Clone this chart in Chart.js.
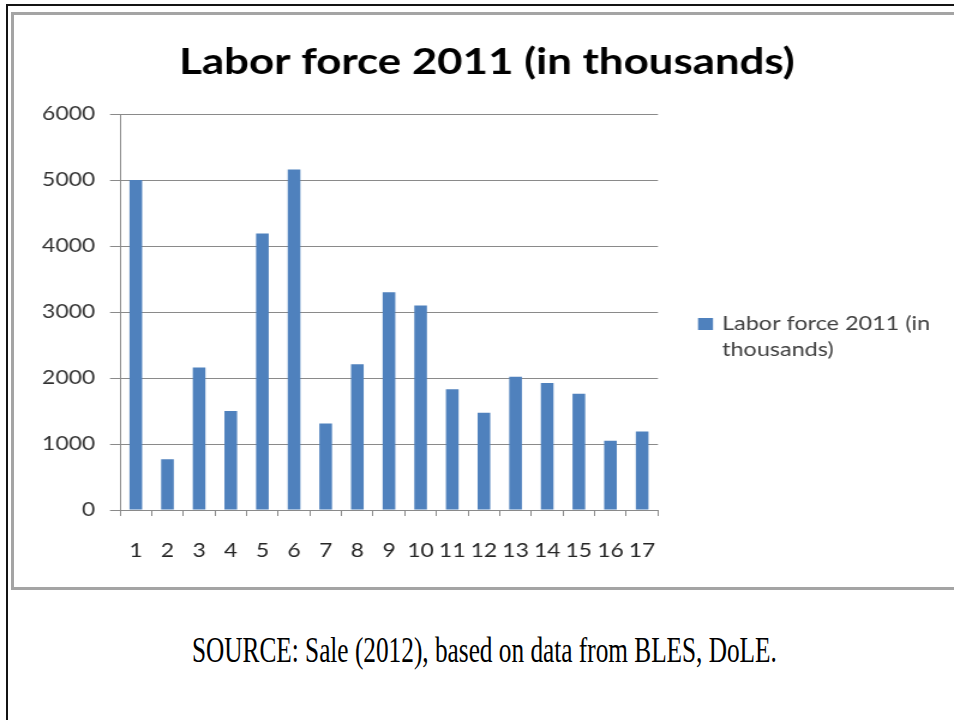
<!DOCTYPE html>
<html><head><meta charset="utf-8">
<script src="https://cdn.jsdelivr.net/npm/chart.js@4.4.1/dist/chart.umd.min.js"></script>
<style>
html,body{margin:0;padding:0;background:#fff;}
body{width:954px;height:720px;overflow:hidden;position:relative;}
.bl{position:absolute;background:#141414;}
#frame{position:absolute;left:11px;top:12px;width:960px;height:572px;border:3px solid #a4a4a4;}
#wrap{position:absolute;left:12px;top:0;width:792px;height:590px;transform:scaleX(1.2);transform-origin:0 0;}
#src{position:absolute;left:200px;top:633px;font-family:"Liberation Serif","Times New Roman",serif;font-size:35px;line-height:35px;white-space:nowrap;color:#000;transform-origin:0 0;}
</style></head><body>
<div class="bl" style="left:6px;top:4px;width:2px;height:716px"></div>
<div class="bl" style="left:6px;top:4px;width:948px;height:2px"></div>
<div id="frame"></div>
<div id="wrap"><canvas id="c" width="792" height="590"></canvas></div>
<div id="src"></div>
<script>
// ---- data ----
const categories = ['1','2','3','4','5','6','7','8','9','10','11','12','13','14','15','16','17'];
const laborForce = [5000, 770, 2160, 1500, 4190, 5160, 1310, 2210, 3300, 3100, 1830, 1475, 2020, 1925, 1760, 1050, 1190];
const yTickValues = [0, 1000, 2000, 3000, 4000, 5000, 6000];
const chartTitle = 'Labor force 2011 (in thousands)';
const seriesLabel = 'Labor force 2011 (in thousands)';
const sourceNote = 'SOURCE: Sale (2012), based on data from BLES, DoLE.';

// ---- layout / style ----
const BAR_COLOR = '#4F81BD';
const GRID = '#8a8a8a';
const LABEL = '#262626';

function wrapText(ctx, text, maxW) {
  const words = text.split(' ');
  const lines = [];
  let cur = '';
  for (const w of words) {
    const t = cur ? cur + ' ' + w : w;
    if (ctx.measureText(t).width > maxW && cur) { lines.push(cur); cur = w; }
    else cur = t;
  }
  if (cur) lines.push(cur);
  return lines;
}

const titleLegendPlugin = {
  id: 'titleLegend',
  afterDraw(chart) {
    const ctx = chart.ctx;
    ctx.save();
    // title
    ctx.font = 'bold 40px Lato';
    const w40 = ctx.measureText(chartTitle).width;
    const size = 40 * 513 / w40;
    ctx.font = 'bold ' + size.toFixed(2) + 'px Lato';
    ctx.fillStyle = '#000';
    ctx.textAlign = 'center';
    ctx.textBaseline = 'alphabetic';
    ctx.fillText(chartTitle, 395.8, 74);
    // legend
    const ds = chart.data.datasets[0];
    ctx.fillStyle = ds.backgroundColor;
    ctx.fillRect(571.7, 318, 12.5, 12);
    ctx.font = '19.5px Lato';
    ctx.fillStyle = '#404040';
    ctx.textAlign = 'left';
    const lines = wrapText(ctx, ds.label, 215);
    lines.forEach((ln, i) => ctx.fillText(ln, 591.7, 330 + i * 26));
    ctx.restore();
  }
};

new Chart(document.getElementById('c'), {
  type: 'bar',
  data: {
    labels: categories,
    datasets: [{
      label: seriesLabel,
      data: laborForce,
      backgroundColor: BAR_COLOR,
      borderWidth: 0,
      barPercentage: 0.4,
      categoryPercentage: 1.0
    }]
  },
  options: {
    responsive: false,
    animation: false,
    devicePixelRatio: 1,
    layout: { padding: { left: 0, right: 792 - 538.3, top: 114, bottom: 0 } },
    plugins: { legend: { display: false }, title: { display: false }, tooltip: { enabled: false } },
    scales: {
      x: {
        offset: true,
        grid: { display: true, offset: true, drawOnChartArea: false, drawTicks: true, tickLength: 6, color: GRID },
        border: { color: GRID, width: 1 },
        ticks: { font: { family: 'Lato', size: 19 }, color: LABEL, padding: 23, autoSkip: false, maxRotation: 0, minRotation: 0 },
        afterFit(s) { s.height = 80; }
      },
      y: {
        min: yTickValues[0],
        max: yTickValues[yTickValues.length - 1],
        afterBuildTicks(s) { s.ticks = yTickValues.map(v => ({ value: v })); },
        ticks: { callback: v => String(v), font: { family: 'Lato', size: 19 }, color: '#333', padding: 12.5 },
        grid: { color: GRID, tickLength: 8.3, drawTicks: true },
        border: { color: GRID, width: 1 },
        afterFit(s) { s.width = 90; }
      }
    }
  },
  plugins: [titleLegendPlugin]
});

// source note (html text, fitted to the reference width)
const src = document.getElementById('src');
src.textContent = sourceNote;
const w = src.offsetWidth;
const k = 585 / w;
src.style.transform = 'scaleX(' + k.toFixed(4) + ')';
src.style.left = (484.5 - 585 / 2) + 'px';
</script>
</body></html>
